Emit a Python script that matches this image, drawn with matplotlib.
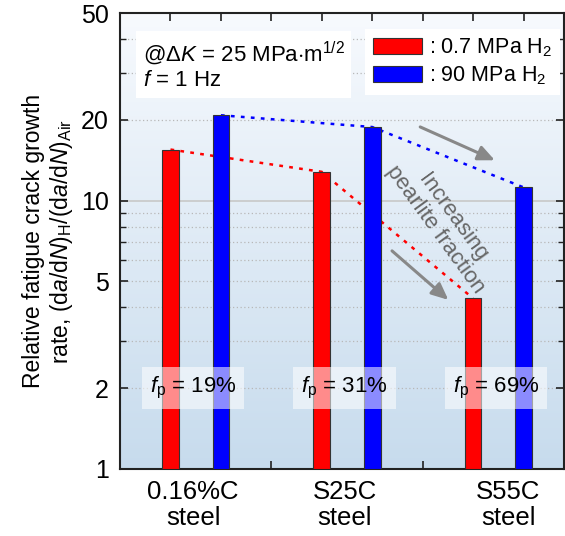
import matplotlib.pyplot as plt
import numpy as np
from matplotlib.patches import Patch

plt.rcParams['font.family'] = ['Liberation Sans', 'DejaVu Sans']
plt.rcParams['mathtext.fontset'] = 'custom'
plt.rcParams['mathtext.rm'] = 'Liberation Sans'
plt.rcParams['mathtext.it'] = 'Liberation Sans:italic'

steels = ['0.16%C\nsteel', 'S25C\nsteel', 'S55C\nsteel']
pearlite = ['19%', '31%', '69%']
low_h2 = [15.5, 12.8, 4.32]     # 0.7 MPa H2
high_h2 = [20.8, 18.8, 11.2]    # 90 MPa H2

x_red = np.array([1, 4, 7])
x_blue = x_red + 1

fig = plt.figure(figsize=(5.65, 5.36), dpi=100)
ax = fig.add_axes([0.2124, 0.125, 0.7858, 0.8507])

# background gradient
grad = np.linspace(1, 0, 256).reshape(-1, 1)
top = np.array([0.97, 0.98, 0.995])
bot = np.array([0.78, 0.86, 0.93])
img = (bot + (top - bot) * grad[..., None]).reshape(256, 1, 3)
ax.imshow(img, extent=[0, 1, 0, 1], transform=ax.transAxes, aspect='auto', zorder=0)

ax.set_yscale('log')
ax.set_ylim(1, 50)
ax.set_xlim(0, 8.8)

# grid
for v in [2, 3, 4, 5, 6, 7, 8, 9, 20, 30, 40]:
    ax.axhline(v, color='#b8b8b8', lw=0.9, ls=(0, (1, 2)), zorder=1)
ax.axhline(10, color='#c8c8c8', lw=1.2, zorder=1)

# dotted trend lines (behind bars)
ax.plot(x_red, low_h2, color='red', ls=(0, (1.5, 2.5)), lw=1.8, zorder=2)
ax.plot(x_blue, high_h2, color='blue', ls=(0, (1.5, 2.5)), lw=1.8, zorder=2)

ax.bar(x_red, np.array(low_h2) - 1, width=0.33, bottom=1, color='#ff0000',
       edgecolor='#333333', lw=0.8, zorder=3)
ax.bar(x_blue, np.array(high_h2) - 1, width=0.33, bottom=1, color='#0000ff',
       edgecolor='#333333', lw=0.8, zorder=3)

# f_p labels
for xr, fp in zip(x_red, pearlite):
    ax.text(xr + 0.45, 2.0, r'$f_\mathrm{p}$ = ' + fp, ha='center', va='center', fontsize=16,
            zorder=5, bbox=dict(boxstyle='square,pad=0.35', fc='white', ec='none', alpha=0.55))

# x labels
for xc, s in zip([1.45, 4.45, 7.7], steels):
    ax.text(xc, -0.025, s, transform=ax.get_xaxis_transform(), ha='center', va='top',
            fontsize=18.5, linespacing=1.1)

# arrows
arr = dict(arrowstyle='-|>,head_length=1.0,head_width=0.45', color='#888888', lw=2.2)
ax.annotate('', xy=(7.48, 14.0), xytext=(5.9, 19.0), arrowprops=arr, zorder=6)
ax.annotate('', xy=(6.55, 4.2), xytext=(5.35, 6.6), arrowprops=arr, zorder=6)
ax.text(6.42, 8.2, 'Increasing\npearlite fraction', rotation=-54, ha='center', va='center',
        fontsize=16, color='#666666', rotation_mode='anchor', zorder=6, linespacing=1.0)

# condition box
ax.text(0.45, 40, r'@$\Delta K$ = 25 MPa$\cdot$m$^{1/2}$' + '\n' + r'$f$ = 1 Hz', ha='left', va='top',
        fontsize=16, linespacing=1.2, zorder=6,
        bbox=dict(boxstyle='square,pad=0.3', fc='white', ec='none'))

handles = [Patch(fc='red', ec='#333333', lw=0.8), Patch(fc='blue', ec='#333333', lw=0.8)]
leg = ax.legend(handles, [r': 0.7 MPa H$_2$', r': 90 MPa H$_2$'], loc='upper right',
                bbox_to_anchor=(0.99, 0.965), fontsize=15.5, frameon=True, fancybox=False,
                handlelength=2.3, handleheight=0.8, handletextpad=0.3, borderpad=0.35,
                labelspacing=0.25, borderaxespad=0.0)
leg.get_frame().set_edgecolor('none')
leg.get_frame().set_alpha(1)
leg.set_zorder(7)

ax.set_yticks([1, 2, 5, 10, 20, 50])
ax.set_yticklabels(['1', '2', '5', '10', '20', '50'], fontsize=18)
ax.yaxis.set_minor_formatter(plt.NullFormatter())
ax.set_xticks(range(1, 9))
ax.set_xticklabels([])
ax.tick_params(axis='both', which='both', direction='in', top=True, right=True, color='#222222')
ax.tick_params(axis='y', which='major', length=6, width=1.2, pad=8)
ax.tick_params(axis='y', which='minor', length=4, width=1)
ax.tick_params(axis='x', length=6, width=1.2)
for s in ax.spines.values():
    s.set_linewidth(1.5)
    s.set_color('#222222')

ax.set_ylabel(r'Relative fatigue crack growth' + '\n' +
              r'rate, (d$a$/d$N$)$_\mathrm{H}$/(d$a$/d$N$)$_\mathrm{Air}$',
              fontsize=16.5, linespacing=1.15, labelpad=4)

fig.savefig('out.png', dpi=100)
